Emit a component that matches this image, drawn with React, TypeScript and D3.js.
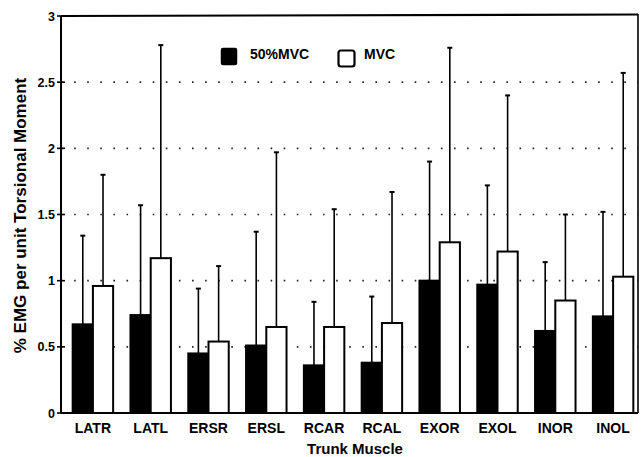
import React from "react";
import * as d3 from "d3";

const muscles = ["LATR", "LATL", "ERSR", "ERSL", "RCAR", "RCAL", "EXOR", "EXOL", "INOR", "INOL"];
const halfMvc = [0.67, 0.74, 0.45, 0.51, 0.36, 0.38, 1.0, 0.97, 0.62, 0.73];
const fullMvc = [0.96, 1.17, 0.54, 0.65, 0.65, 0.68, 1.29, 1.22, 0.85, 1.03];
const halfMvcErrTop = [1.34, 1.57, 0.94, 1.37, 0.84, 0.88, 1.9, 1.72, 1.14, 1.52];
const fullMvcErrTop = [1.8, 2.78, 1.11, 1.97, 1.54, 1.67, 2.76, 2.4, 1.5, 2.57];
const yTicks = [0, 0.5, 1, 1.5, 2, 2.5, 3];
const yTickLabels = ["0", "0.5", "1", "1.5", "2", "2.5", "3"];
const seriesKeys = ["50%MVC", "MVC"];

const font = "'Liberation Sans', Arial, sans-serif";

const App = () => {
    const width = 642;
    const height = 457;
    const left = 61;
    const right = 638;
    const top = 16;
    const bottom = 413;

    const y = d3.scaleLinear().domain([0, 3]).range([bottom, top]);
    const x = d3.scaleBand().domain(muscles).range([64, 642]).paddingInner(0.3).paddingOuter(0.15);
    const xInner = d3.scaleBand().domain(seriesKeys).range([0, x.bandwidth()]);

    const rows = muscles.map((m, i) => ({
        m,
        bars: [
            { key: "50%MVC", v: halfMvc[i], e: halfMvcErrTop[i] },
            { key: "MVC", v: fullMvc[i], e: fullMvcErrTop[i] },
        ],
    }));

    return (
        <svg width={width} height={height} style={{ position: "absolute", left: 0, top: 0, background: "#fff" }}>
            {/* dotted grid */}
            {yTicks.filter((t) => t > 0 && t < 3).map((t) => (
                <line key={"g" + t} x1={left} x2={right} y1={y(t)} y2={y(t)}
                    stroke="#222" strokeWidth={1.6} strokeDasharray="1.6,11.5" />
            ))}

            {/* bars + error bars */}
            {rows.map((r) => (
                <g key={r.m} transform={`translate(${x(r.m)},0)`}>
                    {r.bars.map((b) => {
                        const bx = xInner(b.key) as number;
                        const bw = xInner.bandwidth();
                        const cx = bx + bw / 2;
                        return (
                            <g key={b.key}>
                                <line x1={cx} x2={cx} y1={y(b.v)} y2={y(b.e)} stroke="#000" strokeWidth={1.6} />
                                <line x1={cx - 2.5} x2={cx + 2.5} y1={y(b.e)} y2={y(b.e)} stroke="#000" strokeWidth={2} />
                                <rect x={bx} y={y(b.v)} width={bw} height={y(0) - y(b.v)}
                                    fill={b.key === "MVC" ? "#fff" : "#000"} stroke="#000" strokeWidth={2} />
                            </g>
                        );
                    })}
                    <text x={x.bandwidth() / 2} y={433} textAnchor="middle" fontFamily={font}
                        fontWeight="bold" fontSize={14}>{r.m}</text>
                </g>
            ))}

            {/* frame */}
            <line x1={left} x2={right} y1={top} y2={top - 1.5} stroke="#000" strokeWidth={2.2} />
            <line x1={right} x2={right} y1={top - 2} y2={bottom} stroke="#000" strokeWidth={1.6} />
            <line x1={left} x2={left} y1={top} y2={bottom} stroke="#000" strokeWidth={2} />
            <line x1={left} x2={right} y1={bottom} y2={bottom} stroke="#000" strokeWidth={2.2} />

            {/* y ticks */}
            {yTicks.map((t, i) => (
                <g key={"t" + t}>
                    <line x1={left - 4} x2={left + 4} y1={y(t)} y2={y(t)} stroke="#000" strokeWidth={1.6} />
                    <text x={left - 6} y={y(t) + 4.5} textAnchor="end" fontFamily={font}
                        fontWeight="bold" fontSize={12.5}>{yTickLabels[i]}</text>
                </g>
            ))}

            {/* axis titles */}
            <text transform={`translate(26,${(66 + 365) / 2}) rotate(-90)`} textAnchor="middle"
                fontFamily={font} fontWeight="bold" fontSize={17}>% EMG per unit Torsional Moment</text>
            <text x={355} y={454} textAnchor="middle" fontFamily={font} fontWeight="bold" fontSize={15}>Trunk Muscle</text>

            {/* legend */}
            <rect x={221.5} y={48.5} width={15} height={16} rx={1.5} fill="#000" stroke="#000" strokeWidth={1.5} />
            <text x={250} y={58.5} fontFamily={font} fontWeight="bold" fontSize={14}>{seriesKeys[0]}</text>
            <rect x={338.5} y={50.5} width={16} height={16} rx={2.5} fill="#fff" stroke="#000" strokeWidth={2.2} />
            <text x={364} y={58.5} fontFamily={font} fontWeight="bold" fontSize={14}>{seriesKeys[1]}</text>
        </svg>
    );
};

export default App;
